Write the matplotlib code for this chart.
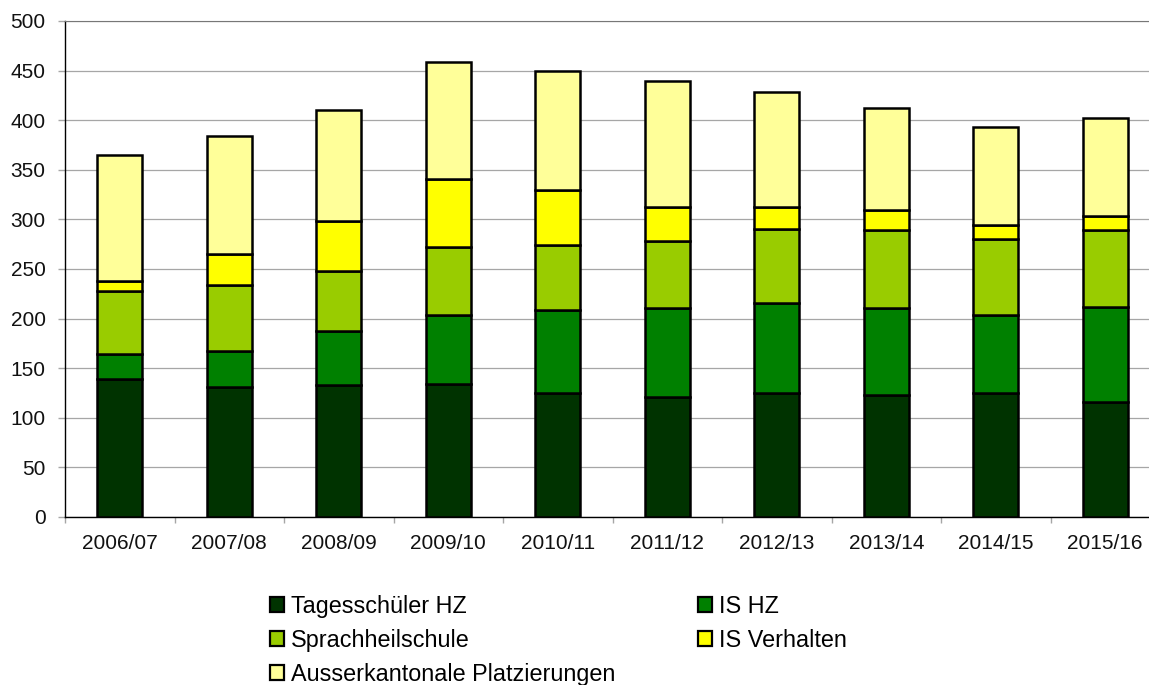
import numpy as np
import matplotlib
matplotlib.use("Agg")
import matplotlib.pyplot as plt
from matplotlib.patches import Patch

# school years and counts per category
years = ['2006/07', '2007/08', '2008/09', '2009/10', '2010/11',
         '2011/12', '2012/13', '2013/14', '2014/15', '2015/16']
tagesschueler = [139, 131, 133, 134, 125, 121, 125, 123, 125, 116]
is_hz = [25, 36, 55, 70, 84, 90, 91, 88, 79, 96]
sprachheil = [64, 67, 60, 68, 65, 67, 74, 78, 76, 77]
is_verhalten = [10, 31, 50, 69, 56, 35, 23, 20, 14, 14]
ausserkantonal = [127, 119, 112, 118, 120, 127, 115, 103, 99, 99]

series = [
    ('Tagesschüler HZ', tagesschueler, '#003300'),
    ('IS HZ', is_hz, '#008000'),
    ('Sprachheilschule', sprachheil, '#99CC00'),
    ('IS Verhalten', is_verhalten, '#FFFF00'),
    ('Ausserkantonale Platzierungen', ausserkantonal, '#FFFF99'),
]

plt.rcParams['font.family'] = ['Liberation Sans', 'DejaVu Sans']

fig = plt.figure(figsize=(11.49, 6.85), dpi=100)
ax = fig.add_axes([65 / 1149, 1 - 517 / 685, 1095 / 1149, 496 / 685])

x = np.arange(len(years))
bottom = np.zeros(len(years))
handles = []
for name, vals, col in series:
    ax.bar(x, vals, width=0.41, bottom=bottom, color=col,
           edgecolor='black', linewidth=1.8, zorder=3)
    bottom += np.array(vals)
    handles.append(Patch(facecolor=col, edgecolor='black', linewidth=1.6, label=name))

ax.set_xlim(-0.5, len(years) - 0.5)
ax.set_ylim(0, 500)
ax.set_yticks(range(0, 501, 50))
ax.yaxis.grid(True, color='#a6a6a6', linewidth=0.9)
ax.set_axisbelow(True)

ax.set_xticks(x)
ax.set_xticklabels(years)
ax.set_xticks(np.arange(-0.5, len(years), 1), minor=True)
ax.tick_params(axis='x', which='major', length=0, pad=12, labelsize=15, labelcolor='#111111')
ax.tick_params(axis='x', which='minor', length=4, color='#a6a6a6', width=1)
ax.tick_params(axis='y', length=5, color='#a6a6a6', width=1, pad=9, labelsize=15, labelcolor='#111111')

for s in ['left', 'bottom']:
    ax.spines[s].set_color('black')
    ax.spines[s].set_linewidth(1.0)
ax.spines['top'].set_color('#777777')
ax.spines['right'].set_visible(False)

# legend: two columns, row-wise order like the original
order = [0, 2, 4, 1, 3]
fig.legend([handles[i] for i in order], [handles[i].get_label() for i in order],
           ncol=2, loc='upper left', bbox_to_anchor=(270 / 1149, 1 - 595 / 685),
           frameon=False, fontsize=16.8, handlelength=0.6, handleheight=0.6,
           handletextpad=0.3, columnspacing=3.55, labelspacing=0.47,
           borderpad=0, borderaxespad=0)

fig.savefig('out.png', dpi=100)
